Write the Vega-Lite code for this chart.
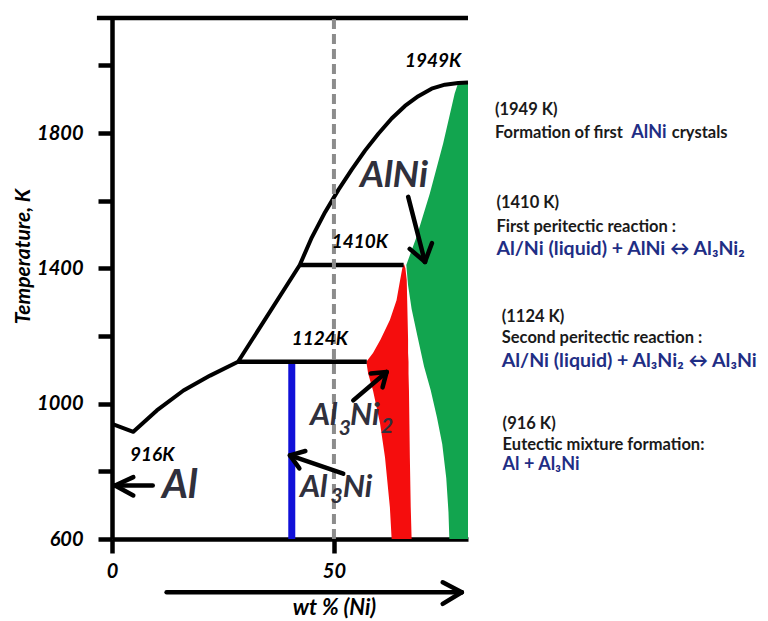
{
  "$schema": "https://vega.github.io/schema/vega-lite/v6.json",
  "width": 356,
  "height": 521,
  "autosize": {"type": "none"},
  "padding": {"left": 112, "top": 18, "right": 300, "bottom": 82},
  "background": "white",
  "config": {"view": {"stroke": null}, "font": "Lato", "axis": {"grid": false}},
  "datasets": {
    "liquidus": [
      {"x": 0, "T": 940}, {"x": 4.8, "T": 917}, {"x": 10.1, "T": 980}, {"x": 16.1, "T": 1039},
      {"x": 22.1, "T": 1083}, {"x": 28.4, "T": 1124}, {"x": 42.3, "T": 1410}, {"x": 45, "T": 1491},
      {"x": 48, "T": 1566}, {"x": 51, "T": 1632}, {"x": 54, "T": 1692}, {"x": 57, "T": 1748},
      {"x": 60, "T": 1798}, {"x": 63, "T": 1843}, {"x": 66, "T": 1880}, {"x": 69, "T": 1909},
      {"x": 72, "T": 1931}, {"x": 75, "T": 1943}, {"x": 78, "T": 1948}, {"x": 80.2, "T": 1949}
    ],
    "red": [
      {"T": 600, "x1": 63.0, "x2": 67.5}, {"T": 694, "x1": 62.6, "x2": 67.3},
      {"T": 842, "x1": 61.5, "x2": 67.1}, {"T": 941, "x1": 60.4, "x2": 67.0},
      {"T": 1039, "x1": 58.8, "x2": 66.9}, {"T": 1089, "x1": 57.7, "x2": 66.8},
      {"T": 1124, "x1": 57.3, "x2": 66.8}, {"T": 1150, "x1": 58.8, "x2": 66.7},
      {"T": 1190, "x1": 60.5, "x2": 66.7}, {"T": 1247, "x1": 62.6, "x2": 66.6},
      {"T": 1306, "x1": 64.1, "x2": 66.5}, {"T": 1365, "x1": 64.9, "x2": 66.4},
      {"T": 1400, "x1": 65.4, "x2": 66.1}, {"T": 1412, "x1": 65.7, "x2": 65.8}
    ],
    "green": [
      {"T": 600, "x1": 76.0}, {"T": 680, "x1": 75.8}, {"T": 780, "x1": 75.3}, {"T": 880, "x1": 74.4},
      {"T": 960, "x1": 73.2}, {"T": 1040, "x1": 71.8}, {"T": 1110, "x1": 70.3}, {"T": 1200, "x1": 68.8},
      {"T": 1280, "x1": 67.5}, {"T": 1350, "x1": 66.7}, {"T": 1410, "x1": 66.3}, {"T": 1493, "x1": 68.6},
      {"T": 1621, "x1": 71.6}, {"T": 1769, "x1": 74.6}, {"T": 1917, "x1": 77.2}, {"T": 1945, "x1": 77.9},
      {"T": 1951, "x1": 79.5}
    ],
    "segs": [
      {"g": "blue", "x": 40.5, "T": 600, "x2": 40.5, "T2": 1124},
      {"g": "tie", "x": 42.3, "T": 1410, "x2": 65.7, "T2": 1410},
      {"g": "tie", "x": 28.4, "T": 1124, "x2": 57.4, "T2": 1124},
      {"g": "tie", "x": -3.4, "T": 2140, "x2": 80.2, "T2": 2140},
      {"g": "dash", "x": 50, "T": 600, "x2": 50, "T2": 2140},
      {"g": "arrow", "x": 12.3, "T": 442.6, "x2": 78.8, "T2": 442.6},
      {"g": "arrow", "x": 78.8, "T": 442.6, "x2": 74.5, "T2": 472.2},
      {"g": "arrow", "x": 78.8, "T": 442.6, "x2": 74.5, "T2": 408.3},
      {"g": "arrow", "x": 9.17, "T": 758.3, "x2": 0.68, "T2": 758.3},
      {"g": "arrow", "x": 0.68, "T": 758.3, "x2": 4.8, "T2": 782.9},
      {"g": "arrow", "x": 0.68, "T": 758.3, "x2": 4.8, "T2": 728.7},
      {"g": "arrow", "x": 66.73, "T": 1611.4, "x2": 70.5, "T2": 1419.1},
      {"g": "arrow", "x": 70.5, "T": 1419.1, "x2": 72.07, "T2": 1474.4},
      {"g": "arrow", "x": 70.5, "T": 1419.1, "x2": 67.07, "T2": 1457.5},
      {"g": "arrow", "x": 54.35, "T": 1009.8, "x2": 61.87, "T2": 1093.6},
      {"g": "arrow", "x": 61.87, "T": 1093.6, "x2": 58.29, "T2": 1089.4},
      {"g": "arrow", "x": 61.87, "T": 1093.6, "x2": 60.95, "T2": 1048.0},
      {"g": "arrow", "x": 52.09, "T": 792.9, "x2": 40.09, "T2": 847.1},
      {"g": "arrow", "x": 40.09, "T": 847.1, "x2": 42.21, "T2": 808.9},
      {"g": "arrow", "x": 40.09, "T": 847.1, "x2": 43.56, "T2": 860.1}
    ],
    "notes": [
      {"g": "temp", "x": 65.99, "T": 1996, "text": "1949K"},
      {"g": "temp", "x": 49.48, "T": 1459, "text": "1410K"},
      {"g": "temp", "x": 40.47, "T": 1173, "text": "1124K"},
      {"g": "temp", "x": 4.05, "T": 832, "text": "916K"},
      {"g": "p40", "x": 11.26, "T": 720, "text": "Al"},
      {"g": "p37", "x": 55.86, "T": 1641, "text": "AlNi"},
      {"g": "p31", "x": 44.59, "T": 936, "text": "Al"},
      {"g": "sub", "x": 51.1, "T": 906, "text": "3"},
      {"g": "p31", "x": 53.6, "T": 936, "text": "Ni"},
      {"g": "sub", "x": 60.6, "T": 912, "text": "2"},
      {"g": "p31", "x": 42.34, "T": 724, "text": "Al"},
      {"g": "sub", "x": 49.2, "T": 705, "text": "3"},
      {"g": "p31", "x": 52.0, "T": 724, "text": "Ni"},
      {"g": "hd", "x": 86.26, "T": 1853, "text": "(1949 K)"},
      {"g": "hd", "x": 86.26, "T": 1784, "text": "Formation of first"},
      {"g": "hdb", "x": 117.0, "T": 1784, "text": "AlNi"},
      {"g": "hd", "x": 126.1, "T": 1784, "text": "crystals"},
      {"g": "hd", "x": 86.6, "T": 1577, "text": "(1410 K)"},
      {"g": "hd", "x": 86.6, "T": 1508, "text": "First peritectic reaction :"},
      {"g": "eq", "x": 86.6, "T": 1439, "text": "Al/Ni (liquid) + AlNi ↔ Al₃Ni₂"},
      {"g": "hd", "x": 87.8, "T": 1241, "text": "(1124 K)"},
      {"g": "hd", "x": 87.8, "T": 1178, "text": "Second peritectic reaction :"},
      {"g": "eq", "x": 87.8, "T": 1108, "text": "Al/Ni (liquid) + Al₃Ni₂ ↔ Al₃Ni"},
      {"g": "hd", "x": 88.0, "T": 926, "text": "(916 K)"},
      {"g": "hd", "x": 88.0, "T": 862, "text": "Eutectic mixture formation:"},
      {"g": "eqs", "x": 88.0, "T": 803, "text": "Al + Al₃Ni"}
    ]
  },
  "layer": [
    {
      "data": {"name": "green"},
      "mark": {"type": "area", "orient": "horizontal", "color": "#12a54f"},
      "encoding": {
        "y": {
          "field": "T", "type": "quantitative",
          "scale": {"domain": [600, 2140], "nice": false, "zero": false},
          "axis": {
            "values": [600, 800, 1000, 1200, 1400, 1600, 1800, 2000],
            "format": "d",
            "labelExpr": "datum.value % 400 == 0 ? '' : datum.label",
            "labelFont": "Lato", "labelFontSize": 20, "labelFontStyle": "italic", "labelFontWeight": "bold",
            "labelColor": "black", "labelPadding": 15, "labelBaseline": "middle",
            "tickSize": 14, "tickWidth": 4.5, "tickColor": "black",
            "domainWidth": 4.5, "domainColor": "black",
            "title": "Temperature, K",
            "titleFont": "Lato", "titleFontSize": 21, "titleFontStyle": "italic", "titleFontWeight": "bold",
            "titleColor": "black", "titleX": -89, "titleY": 238, "titleAngle": 270,
            "titleAlign": "center", "titleBaseline": "middle"
          }
        },
        "x": {
          "field": "x1", "type": "quantitative",
          "scale": {"domain": [0, 80.2], "nice": false, "zero": false},
          "axis": {
            "values": [0, 50], "format": "d", "labelFlush": false,
            "labelFont": "Lato", "labelFontSize": 20, "labelFontStyle": "italic", "labelFontWeight": "bold",
            "labelColor": "black", "labelPadding": 8,
            "tickSize": 14, "tickWidth": 4.5, "tickColor": "black",
            "domainWidth": 4.5, "domainColor": "black",
            "title": "wt % (Ni)",
            "titleFont": "Lato", "titleFontSize": 22, "titleFontStyle": "italic", "titleFontWeight": "bold",
            "titleColor": "black", "titleX": 222, "titleY": 68,
            "titleAlign": "center", "titleBaseline": "middle"
          }
        },
        "x2": {"datum": 80.2}
      }
    },
    {
      "data": {"name": "red"},
      "mark": {"type": "area", "orient": "horizontal", "color": "#f50d0d"},
      "encoding": {
        "y": {"field": "T", "type": "quantitative"},
        "x": {"field": "x1", "type": "quantitative"},
        "x2": {"field": "x2"}
      }
    },
    {
      "data": {"name": "segs"},
      "transform": [{"filter": "datum.g == 'blue'"}],
      "mark": {"type": "rule", "color": "#1010d8", "strokeWidth": 7},
      "encoding": {
        "x": {"field": "x", "type": "quantitative"},
        "x2": {"field": "x2"},
        "y": {"field": "T", "type": "quantitative"},
        "y2": {"field": "T2"}
      }
    },
    {
      "data": {"name": "liquidus"},
      "mark": {"type": "line", "color": "black", "strokeWidth": 4, "strokeJoin": "round"},
      "encoding": {
        "x": {"field": "x", "type": "quantitative"},
        "y": {"field": "T", "type": "quantitative"}
      }
    },
    {
      "data": {"name": "segs"},
      "transform": [{"filter": "datum.g == 'tie'"}],
      "mark": {"type": "rule", "color": "black", "strokeWidth": 4.5},
      "encoding": {
        "x": {"field": "x", "type": "quantitative"},
        "x2": {"field": "x2"},
        "y": {"field": "T", "type": "quantitative"},
        "y2": {"field": "T2"}
      }
    },
    {
      "data": {"name": "segs"},
      "transform": [{"filter": "datum.g == 'dash'"}],
      "mark": {"type": "rule", "color": "#8c8c8c", "strokeWidth": 4, "strokeDash": [10, 5]},
      "encoding": {
        "x": {"field": "x", "type": "quantitative"},
        "x2": {"field": "x2"},
        "y": {"field": "T", "type": "quantitative"},
        "y2": {"field": "T2"}
      }
    },
    {
      "data": {"name": "segs"},
      "transform": [{"filter": "datum.g == 'arrow'"}],
      "mark": {"type": "rule", "color": "black", "strokeWidth": 4.5, "strokeCap": "round"},
      "encoding": {
        "x": {"field": "x", "type": "quantitative"},
        "x2": {"field": "x2"},
        "y": {"field": "T", "type": "quantitative"},
        "y2": {"field": "T2"}
      }
    },
    {
      "data": {"name": "notes"},
      "transform": [{"filter": "datum.g == 'temp'"}],
      "mark": {"type": "text", "align": "left", "baseline": "alphabetic", "font": "Lato", "fontSize": 19, "fontStyle": "italic", "fontWeight": "bold", "color": "black"},
      "encoding": {
        "x": {"field": "x", "type": "quantitative"},
        "y": {"field": "T", "type": "quantitative"},
        "text": {"field": "text"}
      }
    },
    {
      "data": {"name": "notes"},
      "transform": [{"filter": "datum.g == 'p40'"}],
      "mark": {"type": "text", "align": "left", "baseline": "alphabetic", "font": "Lato", "fontSize": 40, "fontStyle": "italic", "fontWeight": "bold", "color": "#30303c"},
      "encoding": {
        "x": {"field": "x", "type": "quantitative"},
        "y": {"field": "T", "type": "quantitative"},
        "text": {"field": "text"}
      }
    },
    {
      "data": {"name": "notes"},
      "transform": [{"filter": "datum.g == 'p37'"}],
      "mark": {"type": "text", "align": "left", "baseline": "alphabetic", "font": "Lato", "fontSize": 37, "fontStyle": "italic", "fontWeight": "bold", "color": "#30303c"},
      "encoding": {
        "x": {"field": "x", "type": "quantitative"},
        "y": {"field": "T", "type": "quantitative"},
        "text": {"field": "text"}
      }
    },
    {
      "data": {"name": "notes"},
      "transform": [{"filter": "datum.g == 'p31'"}],
      "mark": {"type": "text", "align": "left", "baseline": "alphabetic", "font": "Lato", "fontSize": 31, "fontStyle": "italic", "fontWeight": "bold", "color": "#30303c"},
      "encoding": {
        "x": {"field": "x", "type": "quantitative"},
        "y": {"field": "T", "type": "quantitative"},
        "text": {"field": "text"}
      }
    },
    {
      "data": {"name": "notes"},
      "transform": [{"filter": "datum.g == 'sub'"}],
      "mark": {"type": "text", "align": "left", "baseline": "alphabetic", "font": "Lato", "fontSize": 21, "fontStyle": "italic", "fontWeight": "bold", "color": "#30303c"},
      "encoding": {
        "x": {"field": "x", "type": "quantitative"},
        "y": {"field": "T", "type": "quantitative"},
        "text": {"field": "text"}
      }
    },
    {
      "data": {"name": "notes"},
      "transform": [{"filter": "datum.g == 'hd'"}],
      "mark": {"type": "text", "align": "left", "baseline": "alphabetic", "font": "Lato", "fontSize": 16.5, "fontWeight": "bold", "color": "#1a1a1a"},
      "encoding": {
        "x": {"field": "x", "type": "quantitative"},
        "y": {"field": "T", "type": "quantitative"},
        "text": {"field": "text"}
      }
    },
    {
      "data": {"name": "notes"},
      "transform": [{"filter": "datum.g == 'hdb'"}],
      "mark": {"type": "text", "align": "left", "baseline": "alphabetic", "font": "Lato", "fontSize": 18, "fontWeight": "bold", "color": "#1f2e85"},
      "encoding": {
        "x": {"field": "x", "type": "quantitative"},
        "y": {"field": "T", "type": "quantitative"},
        "text": {"field": "text"}
      }
    },
    {
      "data": {"name": "notes"},
      "transform": [{"filter": "datum.g == 'eq'"}],
      "mark": {"type": "text", "align": "left", "baseline": "alphabetic", "font": "Lato", "fontSize": 19.5, "fontWeight": "bold", "color": "#1f2e85"},
      "encoding": {
        "x": {"field": "x", "type": "quantitative"},
        "y": {"field": "T", "type": "quantitative"},
        "text": {"field": "text"}
      }
    },
    {
      "data": {"name": "notes"},
      "transform": [{"filter": "datum.g == 'eqs'"}],
      "mark": {"type": "text", "align": "left", "baseline": "alphabetic", "font": "Lato", "fontSize": 18, "fontWeight": "bold", "color": "#1f2e85"},
      "encoding": {
        "x": {"field": "x", "type": "quantitative"},
        "y": {"field": "T", "type": "quantitative"},
        "text": {"field": "text"}
      }
    }
  ]
}
